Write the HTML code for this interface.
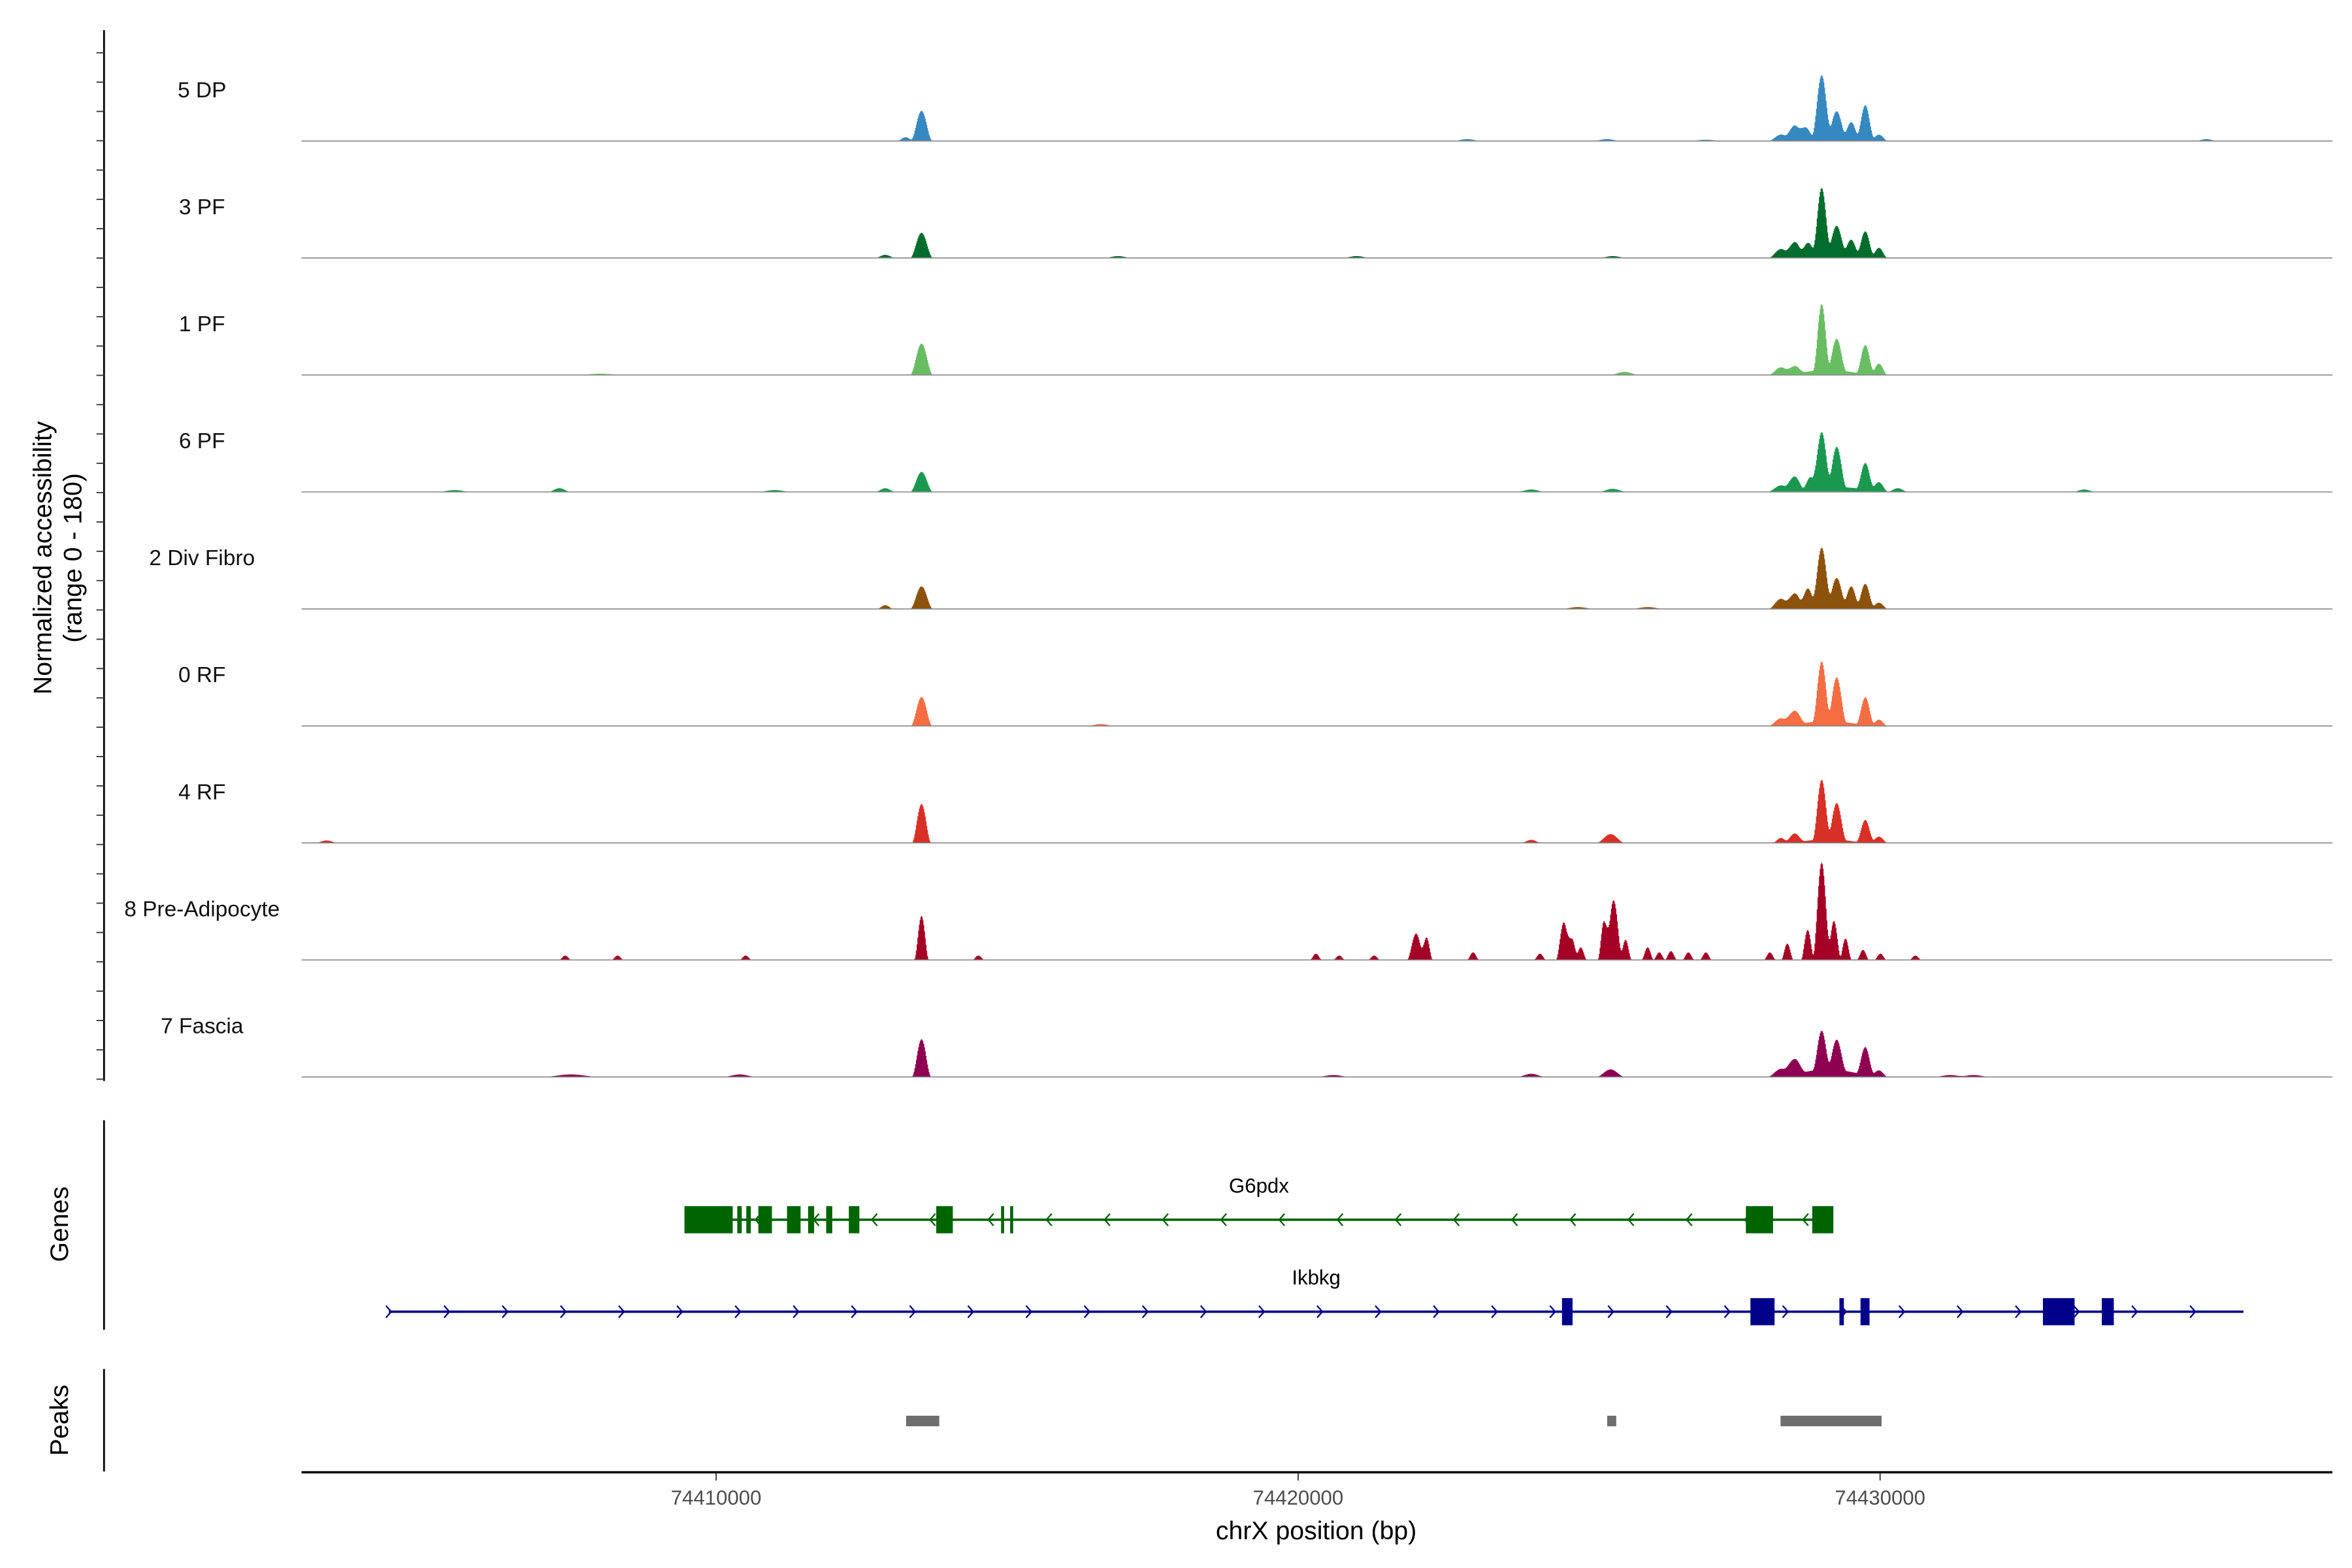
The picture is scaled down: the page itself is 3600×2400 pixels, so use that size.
<!DOCTYPE html>
<html><head><meta charset="utf-8"><style>
html,body{margin:0;padding:0;background:#fff;}
svg{display:block;font-family:"Liberation Sans",sans-serif;}
</style></head><body>
<svg id="chart" width="3600" height="2400" viewBox="0 0 1560 1040" xmlns="http://www.w3.org/2000/svg">
<rect width="1560" height="1040" fill="#fff"/>
<g id="tracks"></g>
<g id="axes"></g>
<g id="genes"></g>
<g id="peaks"></g>
</svg>
<script>
const NS='http://www.w3.org/2000/svg';
// ---- data ----
const trackNames=['5 DP','3 PF','1 PF','6 PF','2 Div Fibro','0 RF','4 RF','8 Pre-Adipocyte','7 Fascia'];
const trackColors=['#3688c0','#006d2c','#68bd62','#1a9850','#8c510a','#f46d43','#d73027','#a50026','#8e0152'];
const yMax=180;
const xTicks=[74410000,74420000,74430000];
// peak centres (bp), heights (0-180), half-widths (bp) per track
const pos0=[74413523,74413250,74428290,74428523,74428705,74428990,74429249,74429500,74429741,74429974,74429100,74422900,74425300,74435600,74427000];
const h0=[48,6,10,22,16,95,38,24,55,10,10,3,3,3,2];
const w0=[190,150,220,180,150,170,170,150,160,160,900,250,250,200,300];
const pos1=[74413523,74412900,74428290,74428523,74428750,74428990,74429249,74429500,74429741,74429974,74429100,74416900,74421000,74425400];
const h1=[40,5,14,22,16,100,40,22,40,16,12,3,3,3];
const w1=[200,180,220,180,150,160,170,150,160,150,900,250,250,250];
const pos2=[74413523,74428290,74428523,74428990,74429249,74429741,74429974,74429100,74425600,74408000];
const h2=[50,12,12,105,50,46,18,8,5,2];
const w2=[200,220,180,150,170,160,150,900,250,400];
const pos3=[74413523,74412900,74428290,74428523,74428800,74428990,74429249,74429741,74429974,74430300,74429200,74407300,74425400,74424000,74433500,74405500,74411000];
const h3=[32,6,10,22,18,88,64,42,14,6,8,6,5,4,4,3,3];
const w3=[200,180,240,180,150,170,170,160,160,180,1100,200,250,250,200,300,300];
const pos4=[74413523,74412900,74428290,74428523,74428750,74428990,74429249,74429500,74429741,74429974,74429100,74424800,74426000];
const h4=[36,6,16,22,26,88,40,30,38,10,10,3,3];
const w4=[200,150,220,180,150,170,170,150,160,160,900,300,300];
const pos5=[74413523,74428290,74428523,74428990,74429249,74429741,74429974,74429100,74416600];
const h5=[46,12,22,95,70,44,10,8,3];
const w5=[190,220,200,160,170,160,150,900,250];
const pos6=[74413523,74428290,74428523,74428990,74429249,74429741,74429974,74429100,74425363,74424000,74403300];
const h6=[62,8,14,95,58,36,10,6,14,5,4];
const w6=[170,150,180,160,170,160,160,800,250,180,200];
const pos7=[74413523,74428990,74428750,74429200,74429400,74428400,74428100,74425415,74425250,74425620,74424560,74424700,74424850,74422021,74422200,74414500,74407400,74408300,74410500,74420300,74420700,74421300,74423000,74426000,74426400,74426700,74427000,74429700,74430000,74430600,74424150,74426200];
const h7=[70,155,48,62,34,26,12,95,62,32,60,34,20,42,36,7,7,7,7,10,7,7,12,20,14,12,12,16,10,7,10,12];
const w7=[130,160,120,130,110,110,110,160,110,110,140,110,110,160,110,110,110,110,110,110,110,110,110,110,110,110,110,110,110,110,110,110];
const pos8=[74413523,74428290,74428523,74428990,74429249,74429741,74429974,74429100,74425363,74424000,74407500,74410400,74420600,74431600,74431200];
const h8=[60,12,24,62,48,44,10,12,12,5,4,4,3,3,3];
const w8=[170,240,200,160,170,160,160,1000,250,250,500,300,300,300,300];
const trackPos=[pos0,pos1,pos2,pos3,pos4,pos5,pos6,pos7,pos8];
const trackH=[h0,h1,h2,h3,h4,h5,h6,h7,h8];
const trackW=[w0,w1,w2,w3,w4,w5,w6,w7,w8];
// genes
const g6pdxExonStart=[74409456,74410363,74410518,74410725,74411218,74411580,74411891,74412280,74413782,74414896,74415052,74427694,74428834];
const g6pdxExonEnd=[74410285,74410440,74410596,74410959,74411451,74411684,74411995,74412461,74414067,74414948,74415104,74428161,74429197];
const ikbkgExonStart=[74424534,74427772,74429301,74429664,74432798,74433809];
const ikbkgExonEnd=[74424716,74428187,74429378,74429819,74433342,74434016];
const peakStart=[74413264,74425311,74428290];
const peakEnd=[74413834,74425466,74430026];
// ---- scales ----
const X0=200,X1=1547,BP0=74402876,BP1=74437772;
function xs(bp){return X0+(bp-BP0)/(BP1-BP0)*(X1-X0);}
const base0=93.5,trackStep=77.6,trackPx=75;
function ys(i,v){return base0+i*trackStep - v/yMax*trackPx;}
function el(tag,attrs,parent){const e=document.createElementNS(NS,tag);for(const k in attrs)e.setAttribute(k,attrs[k]);parent.appendChild(e);return e;}
const gT=document.getElementById('tracks');
for(let i=0;i<trackNames.length;i++){
  const g=el('g',{},gT);
  
  
  let d='M'+X0+','+ys(i,0);
  for(let px=X0;px<X1;px+=0.5){
    const bp=BP0+(px-X0)/(X1-X0)*(BP1-BP0);
    let v=0;
    const P=trackPos[i],H=trackH[i],W=trackW[i];
    for(let k=0;k<P.length;k++){const dd=Math.abs(bp-P[k]);if(dd<W[k])v+=H[k]*0.5*(1+Math.cos(Math.PI*dd/W[k]));}
    v=Math.min(v,yMax);
    d+='L'+px+','+ys(i,v).toFixed(2)+'L'+(px+0.5)+','+ys(i,v).toFixed(2);
  }
  d+='L'+X1+','+ys(i,0)+'Z';
  const a=el('path',{d:d,fill:trackColors[i]},g);
  
  
  const ln=el('line',{x1:X0,x2:X1,y1:ys(i,0),y2:ys(i,0),stroke:'#888','stroke-width':0.7},g);
  
  
  const t=el('text',{x:134,y:ys(i,0)-29,'text-anchor':'middle','font-size':14.5,fill:'#111'},g);
  t.textContent=trackNames[i];
  
  
}
// ---- axes ----
const gA=document.getElementById('axes');
el('line',{x1:69,x2:69,y1:20,y2:717,stroke:'#000','stroke-width':1.2},gA);
for(let y=35;y<=717;y+=19.45){el('line',{x1:64,x2:69,y1:y,y2:y,stroke:'#333','stroke-width':0.8},gA);}
let yt=el('text',{transform:'translate(34,370) rotate(-90)','text-anchor':'middle','font-size':17,fill:'#000'},gA);
yt.textContent='Normalized accessibility';


let yt2=el('text',{transform:'translate(54,370) rotate(-90)','text-anchor':'middle','font-size':17,fill:'#000'},gA);
yt2.textContent='(range 0 - 180)';


el('line',{x1:69,x2:69,y1:743,y2:882,stroke:'#000','stroke-width':1.2},gA);
let gl=el('text',{transform:'translate(45,812) rotate(-90)','text-anchor':'middle','font-size':17,fill:'#000'},gA);
gl.textContent='Genes';


el('line',{x1:69,x2:69,y1:908,y2:976,stroke:'#000','stroke-width':1.2},gA);
let pl=el('text',{transform:'translate(45,942) rotate(-90)','text-anchor':'middle','font-size':17,fill:'#000'},gA);
pl.textContent='Peaks';


el('line',{x1:X0,x2:X1,y1:976.5,y2:976.5,stroke:'#000','stroke-width':1.5},gA);
for(const t of xTicks){
  const x=xs(t);
  el('line',{x1:x,x2:x,y1:977,y2:982,stroke:'#333','stroke-width':0.8},gA);
  const tx=el('text',{x:x,y:998,'text-anchor':'middle','font-size':13.5,fill:'#4d4d4d'},gA);
  tx.textContent=String(t);
  
  
}
let xt=el('text',{x:873,y:1021,'text-anchor':'middle','font-size':17,fill:'#000'},gA);
xt.textContent='chrX position (bp)';


// ---- genes ----
const gG=document.getElementById('genes');
function drawGene(name,color,y,start,end,es,ee,dir,labelX){
  const g=el('g',{},gG);
  
  
  el('line',{x1:xs(start),x2:xs(end),y1:y,y2:y,stroke:color,'stroke-width':1.6},g);
  for(let x=xs(start)+ (dir>0?0:10); x<xs(end)-2; x+=38.6){
    const p = dir>0 ? `M${x-2},${y-4} L${x+1.5},${y} L${x-2},${y+4}` : `M${x+2},${y-4} L${x-1.5},${y} L${x+2},${y+4}`;
    el('path',{d:p,stroke:color,fill:'none','stroke-width':1},g);
  }
  for(let k=0;k<es.length;k++){
    const r=el('rect',{x:xs(es[k]),y:y-9,width:Math.max(xs(ee[k])-xs(es[k]),1.5),height:18,fill:color},g);
    
    
  }
  const t=el('text',{x:labelX,y:y-18,'text-anchor':'middle','font-size':13.5,fill:'#000'},g);
  t.textContent=name;
  
  
}
drawGene('G6pdx','#006400',809,74409456,74429197,g6pdxExonStart,g6pdxExonEnd,-1,835);
drawGene('Ikbkg','#00008b',870,74404378,74436244,ikbkgExonStart,ikbkgExonEnd,1,873);
// ---- peaks ----
const gP=document.getElementById('peaks');
for(let k=0;k<peakStart.length;k++){
  const r=el('rect',{x:xs(peakStart[k]),y:939,width:Math.max(xs(peakEnd[k])-xs(peakStart[k]),3),height:7,fill:'#6e6e6e'},gP);
  
  
}
</script>
</body></html>
